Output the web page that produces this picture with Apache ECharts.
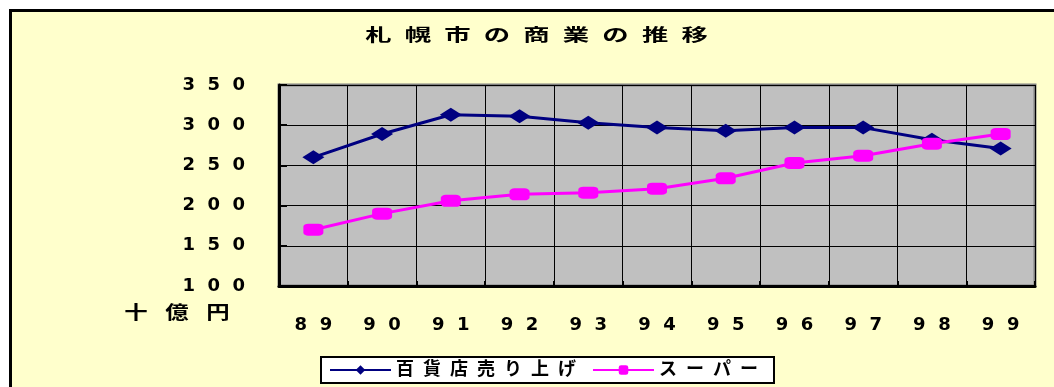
<!DOCTYPE html>
<html>
<head>
<meta charset="utf-8">
<script src="https://cdn.jsdelivr.net/npm/echarts@6/dist/echarts.min.js"></script>
<style>
  html, body { margin: 0; padding: 0; background: #ffffff; overflow: hidden; }
  #frame { position: absolute; left: 9px; top: 9px; width: 1100px; height: 420px;
           background: #FFFFCC; border: 3px solid #000; box-sizing: border-box; }
  #chart { position: absolute; left: 0; top: 0; width: 1054px; height: 387px; }
</style>
</head>
<body>
<div id="frame"></div>
<div id="chart"></div>
<script>
const title = '札幌市の商業の推移';
const unitLabel = '十億円';
const categories = ['89', '90', '91', '92', '93', '94', '95', '96', '97', '98', '99'];
const seriesNames = ['百貨店売り上げ', 'スーパー'];
const departmentStore = [260, 289, 313, 311, 303, 297, 293, 297, 297, 282, 271];
const supermarket = [170, 190, 206, 214, 216, 221, 234, 253, 262, 277, 289];
const yTicks = [100, 150, 200, 250, 300, 350];

const FIG = '\u2007';
const EN = '\u2002';
const spaced = (s, sep) => String(s).split('').join(sep);
const legendNames = seriesNames.map(n => spaced(n, EN));
const FONT = 'DejaVu Sans, "Noto Sans CJK JP", sans-serif';

const chart = echarts.init(document.getElementById('chart'), null, { renderer: 'canvas' });
chart.setOption({
  backgroundColor: 'transparent',
  animation: false,
  textStyle: { fontFamily: FONT },
  graphic: [
    {
      type: 'text', x: 536.5, y: 37, scaleX: 1.55,
      style: { text: spaced(title, EN), x: 0, y: 0, align: 'center', verticalAlign: 'middle',
               font: 'bold 17px ' + FONT, fill: '#000' }
    },
    {
      type: 'text', x: 177, y: 314, scaleX: 1.3,
      style: { text: spaced(unitLabel, EN + '\u2005'), x: 0, y: 0, align: 'center', verticalAlign: 'middle',
               font: 'bold 18px ' + FONT, fill: '#000' }
    }
  ],
  legend: {
    left: 321, top: 357,
    orient: 'horizontal',
    padding: [4, 16, 4, 8],
    itemGap: 16,
    itemWidth: 61, itemHeight: 12,
    backgroundColor: '#ffffff',
    borderColor: '#000000', borderWidth: 2, borderRadius: 0,
    textStyle: { fontSize: 18, fontWeight: 'bold', color: '#000', fontFamily: FONT },
    data: legendNames
  },
  grid: {
    left: 279, right: 19, top: 85, bottom: 101,
    show: true, backgroundColor: '#C0C0C0',
    borderColor: '#808080', borderWidth: 3,
    containLabel: false
  },
  xAxis: {
    type: 'category',
    data: categories,
    boundaryGap: true,
    axisLine: { show: true, lineStyle: { color: '#000', width: 3 } },
    axisTick: { show: true, inside: true, length: 5, lineStyle: { color: '#000', width: 2 } },
    splitLine: { show: true, lineStyle: { color: '#000', width: 1 } },
    axisLabel: { margin: 30, fontSize: 18, fontWeight: 'bold', color: '#000',
                 formatter: v => spaced(v, FIG) }
  },
  yAxis: {
    type: 'value',
    min: yTicks[0], max: yTicks[yTicks.length - 1], interval: 50,
    axisLine: { show: true, lineStyle: { color: '#000', width: 3 } },
    axisTick: { show: true, inside: true, length: 8, lineStyle: { color: '#000', width: 2 } },
    splitLine: { show: true, lineStyle: { color: '#000', width: 1 } },
    axisLabel: { margin: 34, fontSize: 18, fontWeight: 'bold', color: '#000',
                 formatter: v => spaced(v, FIG) }
  },
  series: [
    {
      name: legendNames[0], type: 'line', data: departmentStore,
      symbol: 'diamond', symbolSize: [22, 14], showAllSymbol: true,
      lineStyle: { color: '#000080', width: 3 },
      itemStyle: { color: '#000080' }, z: 3
    },
    {
      name: legendNames[1], type: 'line', data: supermarket,
      symbol: 'roundRect', symbolSize: [20, 12], showAllSymbol: true,
      lineStyle: { color: '#FF00FF', width: 3 },
      itemStyle: { color: '#FF00FF' }, z: 4
    }
  ]
});
</script>
</body>
</html>
